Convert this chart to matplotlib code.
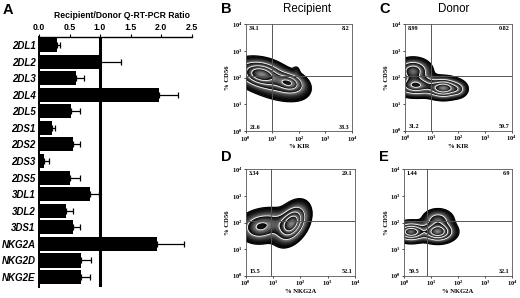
import numpy as np
import matplotlib.pyplot as plt

plt.rcParams['mathtext.default'] = 'regular'

# ---- panel A data: recipient/donor Q-RT-PCR ratio
genes = ['2DL1', '2DL2', '2DL3', '2DL4', '2DL5', '2DS1', '2DS2', '2DS3',
         '2DS5', '3DL1', '3DL2', '3DS1', 'NKG2A', 'NKG2D', 'NKG2E']
ratio = [0.30, 1.00, 0.61, 1.96, 0.52, 0.22, 0.55, 0.09,
         0.50, 0.83, 0.44, 0.56, 1.94, 0.69, 0.69]
ratio_err = [0.04, 0.34, 0.13, 0.32, 0.16, 0.05, 0.13, 0.07,
             0.18, 0.15, 0.11, 0.11, 0.44, 0.17, 0.14]

# ---- flow panels: quadrant percentages (UL, UR, LL, LR)
quad_B = ['34.1', '8.2', '21.6', '38.3']
quad_C = ['8.99', '0.82', '31.2', '59.7']
quad_D = ['3.34', '29.1', '15.5', '52.1']
quad_E = ['1.44', '6.9', '59.5', '32.1']

# quadrant gates (log10 decades: x, y)
gate_B = (1.00, 2.05)
gate_C = (0.97, 2.05)
gate_D = (0.93, 2.06)
gate_E = (0.85, 2.06)

# density populations, log10 units:
# (centre x, centre y, spread x, spread y, tilt deg, weight)
pops_B = [(0.55, 2.15, 0.45, 0.25, -10, 1.0),
          (1.65, 1.80, 0.32, 0.20, -15, 0.8),
          (0.95, 1.85, 0.70, 0.30, -20, 0.40),
          (1.90, 2.25, 0.08, 0.12, 0, 0.08)]
pops_C = [(0.40, 1.70, 0.40, 0.20, 0, 0.8),
          (0.30, 2.25, 0.32, 0.22, 0, 0.70),
          (1.45, 1.60, 0.33, 0.19, 0, 1.0),
          (2.00, 1.55, 0.17, 0.15, 0, 0.25)]
pops_D = [(1.68, 1.97, 0.40, 0.25, 60, 1.0),
          (0.45, 1.80, 0.35, 0.28, 0, 0.45),
          (0.95, 2.00, 0.40, 0.28, 0, 0.30)]
pops_E = [(0.25, 1.65, 0.30, 0.18, 0, 1.0),
          (1.25, 1.65, 0.31, 0.19, 0, 1.0),
          (1.25, 2.10, 0.28, 0.20, 0, 0.40)]

fig = plt.figure(figsize=(5.2, 2.98), dpi=100)

# ---------------- panel A
ax = fig.add_axes([0.075, 0.0369, 0.2933, 0.8389])
ypos = np.arange(len(genes))
ax.barh(ypos, ratio, height=0.85, color='black',
        xerr=[np.zeros(len(genes)), ratio_err],
        error_kw=dict(ecolor='black', elinewidth=0.9, capsize=2.2, capthick=0.9))
ax.axvline(1.0, color='black', lw=2.2)
ax.set_xlim(0, 2.5)
ax.set_ylim(14.6, -0.48)
ax.set_xticks([0, 0.5, 1.0, 1.5, 2.0, 2.5])
ax.set_xticklabels(['0.0', '0.5', '1.0', '1.5', '2.0', '2.5'],
                   fontfamily='Liberation Sans', fontweight='bold', fontsize=6.3)
ax.xaxis.tick_top()
ax.tick_params(axis='x', length=2, width=0.8, pad=1.5)
ax.set_yticks(ypos)
ax.set_yticklabels(genes, fontfamily='Liberation Sans', fontweight='bold',
                   fontstyle='italic', fontsize=7.0)
ax.tick_params(axis='y', length=0, pad=2.5)
for s in ['right', 'bottom']:
    ax.spines[s].set_visible(False)
ax.spines['left'].set_linewidth(1.4)
ax.spines['top'].set_linewidth(1.0)
fig.text(121.5 / 520, 1 - 16 / 298, 'Recipient/Donor Q-RT-PCR Ratio',
         ha='center', va='center', fontfamily='Liberation Sans',
         fontweight='bold', fontsize=6.2)


# ---------------- flow panels
def density(pops, X, Y):
    Z = np.zeros_like(X)
    for cx, cy, sx, sy, ang, w in pops:
        t = np.deg2rad(ang)
        dx, dy = X - cx, Y - cy
        u = dx * np.cos(t) + dy * np.sin(t)
        v = -dx * np.sin(t) + dy * np.cos(t)
        Z += w * np.exp(-0.5 * ((u / sx) ** 2 + (v / sy) ** 2))
    return Z / Z.max()


bands = np.array([0.04, 0.25, 0.50, 0.75, 1.01])

g = np.linspace(0, 4, 400)
X, Y = np.meshgrid(g, g)

serif = dict(fontfamily='Liberation Serif', fontweight='bold')


def zebra(Z):
    # each contour band shaded from black at its outer edge to grey inside
    k = np.clip(np.searchsorted(bands, Z, side='right') - 1, 0, len(bands) - 2)
    frac = (Z - bands[k]) / (bands[k + 1] - bands[k])
    grey = 0.55 * np.clip(frac, 0, 1) ** 1.2
    img = np.zeros(Z.shape + (4,))
    img[..., 0] = grey
    img[..., 1] = grey
    img[..., 2] = grey
    img[..., 3] = (Z >= bands[0]).astype(float)
    return img


def flow(rect, pops, gate, quad, xlab):
    a = fig.add_axes(rect)
    Z = density(pops, X, Y)
    a.imshow(zebra(Z), extent=[0, 4, 0, 4], origin='lower',
             interpolation='bilinear', aspect='auto')
    a.contour(X, Y, Z, levels=bands[1:-1], colors='white', linewidths=0.6)
    a.contour(X, Y, Z, levels=[bands[0]], colors='black', linewidths=0.9)
    a.axvline(gate[0], color='#555555', lw=0.7)
    a.axhline(gate[1], color='#555555', lw=0.7)
    a.set_xlim(0, 4)
    a.set_ylim(0, 4)
    ticks = ['10$^{%d}$' % k for k in range(5)]
    a.set_xticks(range(5))
    a.set_yticks(range(5))
    a.set_xticklabels(ticks, fontsize=4.6, **serif)
    a.set_yticklabels(ticks, fontsize=4.6, **serif)
    a.tick_params(length=1.5, width=0.5, pad=1)
    for s in a.spines.values():
        s.set_linewidth(0.6)
        s.set_color('#555555')
    a.set_xlabel(xlab, fontsize=4.8, labelpad=0.5, **serif)
    a.set_ylabel('% CD56', fontsize=4.8, labelpad=1, **serif)
    a.text(0.1, 3.92, quad[0], ha='left', va='top', fontsize=4.4, **serif)
    a.text(3.92, 3.92, quad[1], ha='right', va='top', fontsize=4.4, **serif)
    a.text(0.15, 0.05, quad[2], ha='left', va='bottom', fontsize=4.4, **serif)
    a.text(3.92, 0.05, quad[3], ha='right', va='bottom', fontsize=4.4, **serif)
    return a


flow([0.4725, 0.5604, 0.2044, 0.359], pops_B, gate_B, quad_B, '% KIR')
flow([0.7788, 0.5614, 0.2052, 0.3577], pops_C, gate_C, quad_C, '% KIR')
flow([0.4725, 0.0748, 0.2102, 0.357], pops_D, gate_D, quad_D, '% NKG2A')
flow([0.7775, 0.0748, 0.2070, 0.357], pops_E, gate_E, quad_E, '% NKG2A')

fig.text(306.7 / 520, 1 - 9 / 298, 'Recipient', ha='center', va='center',
         fontfamily='Liberation Sans', fontsize=8.3)
fig.text(453.3 / 520, 1 - 9 / 298, 'Donor', ha='center', va='center',
         fontfamily='Liberation Sans', fontsize=8.3)

letter = dict(fontfamily='Liberation Sans', fontweight='bold', fontsize=10.5,
              ha='left', va='top')
fig.text(3 / 520, 1 - 3 / 298, 'A', **letter)
fig.text(221 / 520, 1 - 2 / 298, 'B', **letter)
fig.text(379 / 520, 1 - 2 / 298, 'C', **letter)
fig.text(221 / 520, 1 - 150 / 298, 'D', **letter)
fig.text(379 / 520, 1 - 150 / 298, 'E', **letter)

fig.savefig('out.png', dpi=100)
